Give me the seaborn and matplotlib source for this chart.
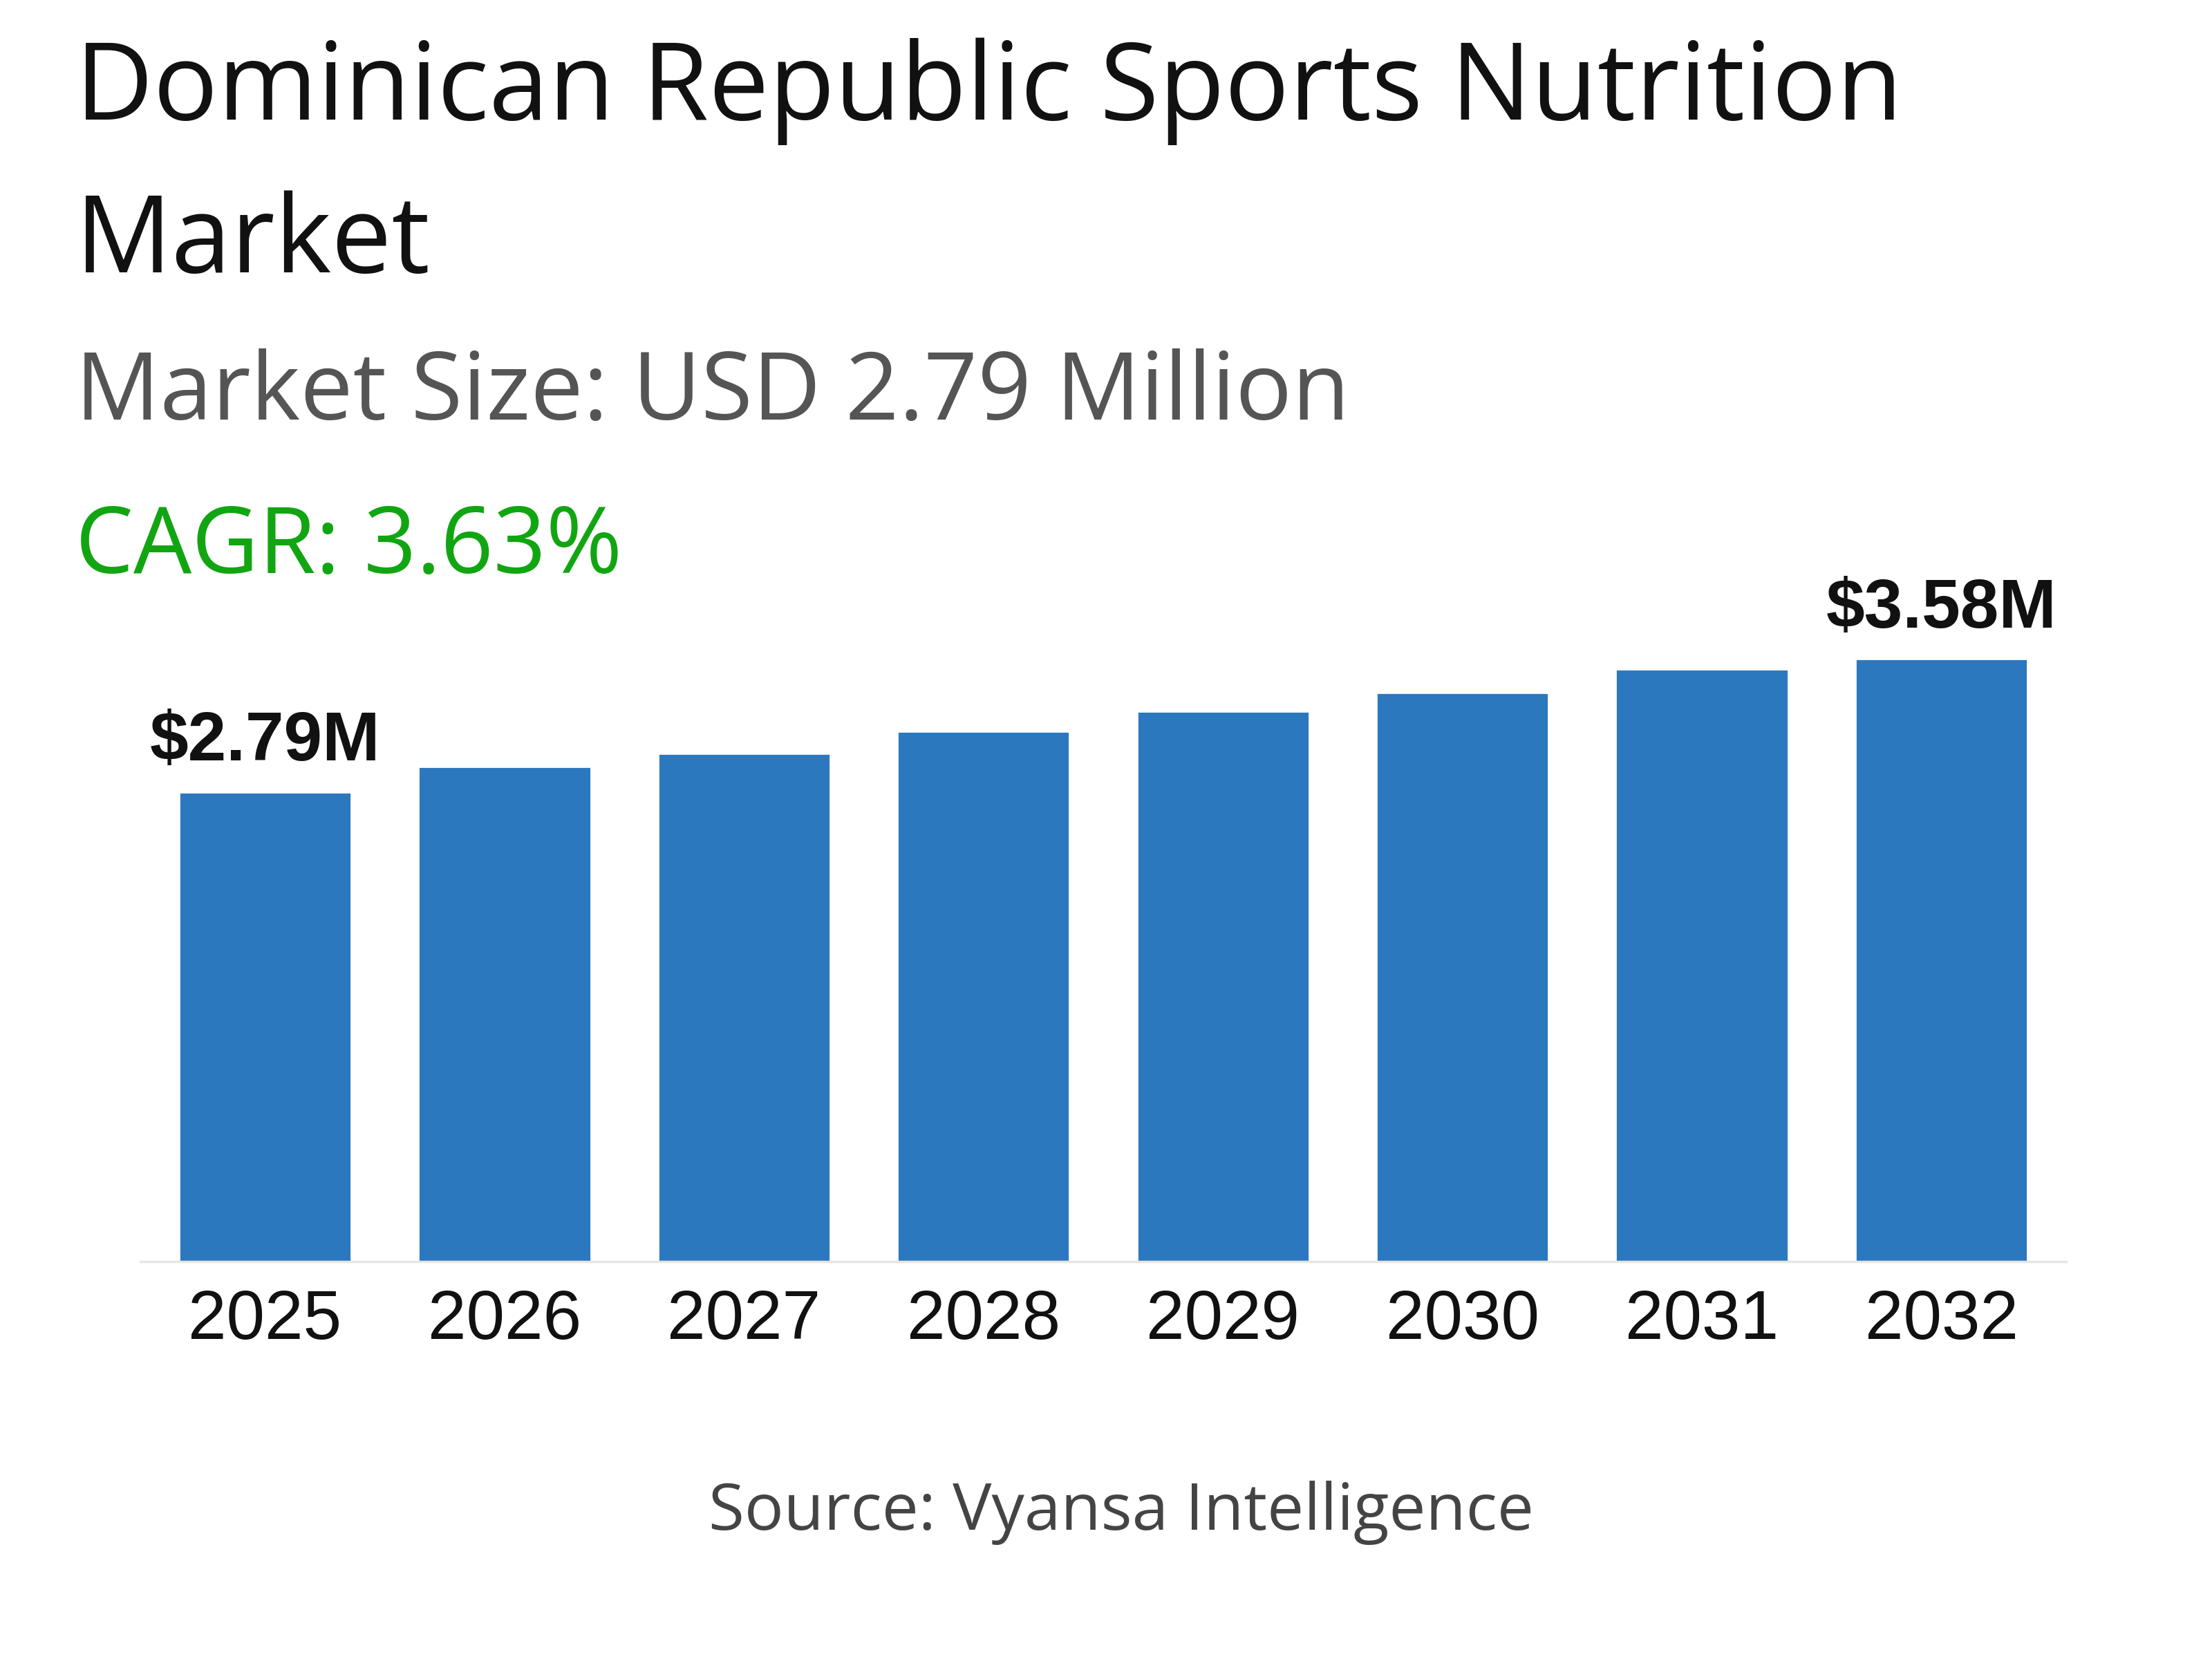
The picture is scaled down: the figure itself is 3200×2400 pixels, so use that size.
import matplotlib
matplotlib.use("Agg")
import matplotlib.pyplot as plt
import seaborn as sns
import pandas as pd

years = ["2025", "2026", "2027", "2028", "2029", "2030", "2031", "2032"]
values = [2.79, 2.94, 3.02, 3.15, 3.27, 3.38, 3.52, 3.58]
labels = {0: "$2.79M", 7: "$3.58M"}

sns.set_theme(style="white")
plt.rcParams['font.family'] = ['Open Sans', 'DejaVu Sans']

fig = plt.figure(figsize=(16, 12), dpi=200)
ax = fig.add_axes([0.0635, 0.2395, 0.8705, 0.406])
df = pd.DataFrame({"year": years, "value": values})
sns.barplot(data=df, x="year", y="value", color="#2C78BF", width=0.72, saturation=1, ax=ax)
ax.set_ylim(0, 4)
ax.set_xlim(-0.5 - 0.02, 7.5 + 0.02)
ax.set_yticks([])
ax.set_xlabel(""); ax.set_ylabel("")
for s in ["top", "right", "left"]:
    ax.spines[s].set_visible(False)
ax.spines["bottom"].set_color("#e6e6e6")
ax.tick_params(axis="x", length=0, pad=14)
for t in ax.get_xticklabels():
    t.set_fontfamily("Liberation Sans"); t.set_fontsize(36); t.set_color("#111111")
for i, lab in labels.items():
    ax.text(i, values[i] + 0.1, lab, ha="center", va="bottom", fontsize=36,
            fontweight="bold", family="Liberation Sans", color="#111111")

fig.text(0.034, 0.945, "Dominican Republic Sports Nutrition", fontsize=56, color="#111111", va="center")
fig.text(0.034, 0.853, "Market", fontsize=56, color="#111111", va="center")
fig.text(0.034, 0.762, "Market Size: USD 2.79 Million", fontsize=49, color="#555555", va="center")
fig.text(0.034, 0.669, "CAGR: 3.63%", fontsize=48, color="#12a512", va="center")
fig.text(0.507, 0.088, "Source: Vyansa Intelligence", fontsize=34, color="#444444", ha="center", va="center")

fig.savefig("out.png", dpi=200)
